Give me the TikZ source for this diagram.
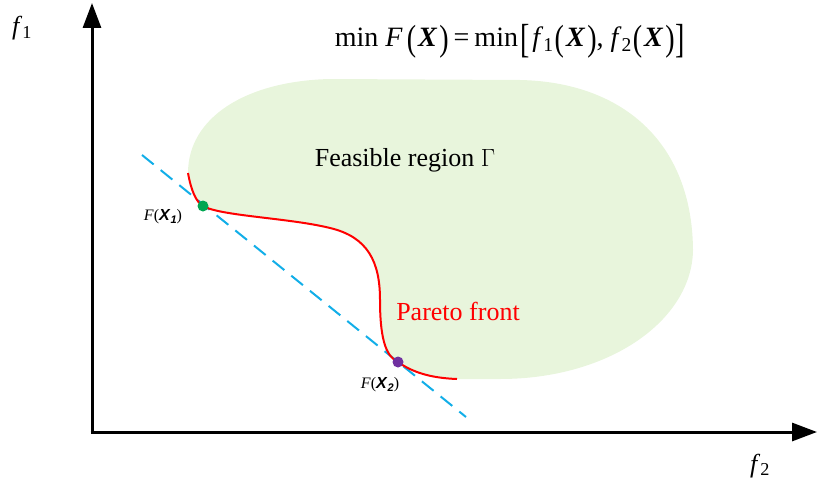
\documentclass[tikz,border=0pt]{standalone}
\usepackage{fontspec}
\usepackage{graphicx}
\setmainfont{Liberation Serif}
\setsansfont{Liberation Sans}
\usetikzlibrary{arrows.meta}
\definecolor{regionfill}{RGB}{232,245,220}
\definecolor{dashcyan}{RGB}{18,174,232}
\definecolor{dotgreen}{RGB}{0,166,81}
\definecolor{dotpurple}{RGB}{112,48,160}
\definecolor{pareto}{RGB}{255,0,0}
\newcommand{\lpar}{\raisebox{-0.13em}{\scalebox{1}[1.3]{(}}}
\newcommand{\rpar}{\raisebox{-0.13em}{\scalebox{1}[1.3]{)}}}
\newcommand{\lbrk}{\raisebox{-0.2em}{\scalebox{1}[1.45]{[}}}
\newcommand{\rbrk}{\raisebox{-0.2em}{\scalebox{1}[1.45]{]}}}
\newcommand{\bX}{\textbf{\textit{X}}}
\begin{document}
\begin{tikzpicture}[x=1pt,y=-1pt,
  axis/.style={line width=3pt},
  axisarrow/.style={-{Triangle[length=25pt,width=18pt]}},
  frontline/.style={draw=pareto,line width=2pt},
  tangent/.style={draw=dashcyan,line width=2pt,dash pattern=on 15pt off 9pt},
  solpt/.style={circle,inner sep=0pt,minimum size=11pt},
  lbl/.style={inner sep=0pt,font=\fontsize{26}{30}\selectfont},
  small/.style={inner sep=0pt,font=\fontsize{16}{19}\selectfont}]
\useasboundingbox (0,0) rectangle (818,487);
% feasible region
\fill[regionfill] (188,173) .. controls (191,190) and (196,202) .. (203,206)
  .. controls (220,216) and (290,218) .. (330,228)
  .. controls (368,237) and (380,262) .. (380,300)
  .. controls (380,345) and (388,357) .. (398,362)
  .. controls (412,372) and (430,378) .. (457,379)
  -- (500,379) .. controls (610,379) and (692,320) .. (693,250)
  .. controls (692,140) and (620,82) .. (520,80)
  -- (330,79) .. controls (245,81) and (188,118) .. cycle;
% axes
\coordinate (O) at (92,432);
\coordinate (ytop) at (92,3);
\coordinate (xstart) at (90.5,432);
\coordinate (xend) at (817,432);
\draw[axis,axisarrow] (O) -- (ytop);
\draw[axis,axisarrow] (xstart) -- (xend);
% tangent line
\coordinate (d1) at (142,155);
\coordinate (d2) at (466,417);
\draw[tangent] (d1) -- (d2);
% pareto front
\coordinate (pfa) at (188,173);
\coordinate (pfb) at (457,379);
\draw[frontline] (pfa) .. controls (191,190) and (196,202) .. (203,206)
  .. controls (220,216) and (290,218) .. (330,228)
  .. controls (368,237) and (380,262) .. (380,300)
  .. controls (380,345) and (388,357) .. (398,362)
  .. controls (412,372) and (430,378) .. (pfb);
% points
\node[solpt,fill=dotgreen] (p1) at (203,206) {};
\node[solpt,fill=dotpurple] (p2) at (398,362) {};
% labels
\node[small] (l1) at (163,217) {\textit{F}(\textsf{\textbf{\textit{X}}}\raisebox{-0.35ex}{\fontsize{11}{13}\selectfont\textsf{\textbf{\textit{1}}}})};
\node[small] (l2) at (380,385) {\textit{F}(\textsf{\textbf{\textit{X}}}\raisebox{-0.35ex}{\fontsize{11}{13}\selectfont\textsf{\textbf{\textit{2}}}})};
\node[lbl,anchor=base] (feas) at (405,166) {Feasible region \(\Gamma\)};
\node[lbl,anchor=base,text=pareto] (pf) at (458,320) {Pareto front};
\node[lbl,anchor=base] (f1) at (22,35) {\textit{f}\textsubscript{1}};
\node[lbl,anchor=base] (f2) at (760,472) {\textit{f}\textsubscript{2}};
\node[inner sep=0pt,anchor=base,font=\fontsize{28}{32}\selectfont] (obj) at (510,47)
  {min \textit{F}\kern4pt\lpar\kern2pt\bX\kern2pt\rpar\kern5pt=\kern5pt{}min\kern2pt\lbrk\kern3pt\textit{f}\textsubscript{1}\kern1pt\lpar\kern2pt\bX\kern2pt\rpar, \textit{f}\textsubscript{2}\kern1pt\lpar\kern2pt\bX\kern2pt\rpar\kern1pt\rbrk};
\end{tikzpicture}
\end{document}
